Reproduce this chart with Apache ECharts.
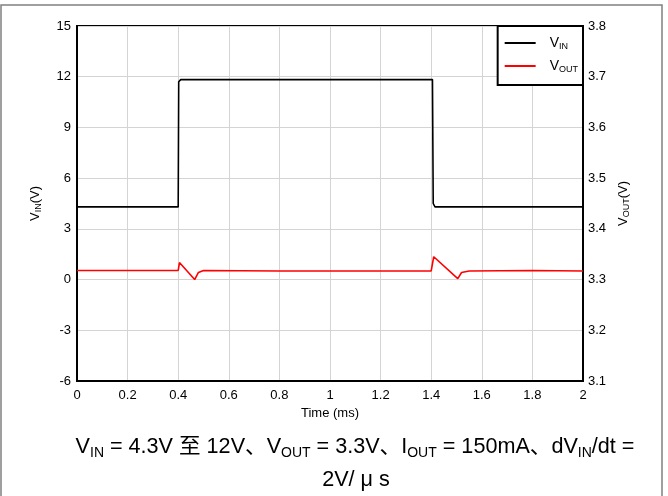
<!DOCTYPE html>
<html>
<head>
<meta charset="utf-8">
<script src="https://cdn.jsdelivr.net/npm/echarts@6/dist/echarts.min.js"></script>
<style>html,body{margin:0;padding:0;background:#fff;}#c{width:668px;height:496px;}</style>
</head>
<body>
<div id="c"></div>
<script>
// Time (ms)
const vinTime = [0, 0.40, 0.402, 0.41, 1.405, 1.408, 1.415, 2.0];
const vinVals = [4.3, 4.3, 11.7, 11.83, 11.83, 4.5, 4.3, 4.3];
const voutTime = [0, 0.20, 0.40, 0.405, 0.465, 0.48, 0.50, 0.80, 1.20, 1.40, 1.41, 1.505, 1.52, 1.55, 1.80, 2.0];
const voutVals = [3.318, 3.318, 3.318, 3.3335, 3.300, 3.314, 3.318, 3.317, 3.317, 3.317, 3.345, 3.302, 3.314, 3.317, 3.318, 3.317];
const leftTicks = {min: -6, max: 15, interval: 3};
const rightTicks = {min: 3.1, max: 3.8, interval: 0.1};
const xTicks = {min: 0, max: 2, interval: 0.2};

const FONT = "'Liberation Sans', Arial, 'Noto Sans CJK SC', sans-serif";
const chart = echarts.init(document.getElementById('c'), null, {renderer: 'canvas'});
const subRich = {
  n: {fontSize: 13, fontFamily: FONT, color: '#000', lineHeight: 16},
  s: {fontSize: 9, fontFamily: FONT, color: '#000', lineHeight: 16, verticalAlign: 'bottom', padding: [4, 0, 0, 0]}
};
const legRich = {
  n: {fontSize: 14, fontFamily: FONT, color: '#000', lineHeight: 16},
  s: {fontSize: 9, fontFamily: FONT, color: '#000', lineHeight: 16, verticalAlign: 'bottom', padding: [5, 0, 0, 0]}
};
const capRich = {
  n: {fontSize: 21.6, fontFamily: FONT, color: '#000', lineHeight: 26},
  s: {fontSize: 14, fontFamily: FONT, color: '#000', lineHeight: 26, verticalAlign: 'bottom', padding: [7, 0, 0, 0]}
};
const legendNames = {'VIN': '{n|V}{s|IN}', 'VOUT': '{n|V}{s|OUT}'};

chart.setOption({
  animation: false,
  backgroundColor: '#fff',
  grid: {left: 77, right: 85, top: 26, bottom: 115, show: true, borderColor: '#000', borderWidth: 2, containLabel: false},
  xAxis: {
    type: 'value', min: xTicks.min, max: xTicks.max, interval: xTicks.interval,
    name: 'Time (ms)', nameLocation: 'middle', nameGap: 24,
    nameTextStyle: {fontSize: 13, fontFamily: FONT, color: '#000'},
    axisLine: {show: true, onZero: false, lineStyle: {color: '#000', width: 2}},
    axisTick: {show: false},
    axisLabel: {fontSize: 13, fontFamily: FONT, color: '#000', margin: 8, formatter: v => String(Math.round(v * 10) / 10)},
    splitLine: {show: true, lineStyle: {color: '#d4d4d4', width: 1}}
  },
  yAxis: [{
    type: 'value', position: 'left', min: leftTicks.min, max: leftTicks.max, interval: leftTicks.interval,
    name: '{n|V}{s|IN}{n|(V)}', nameLocation: 'middle', nameGap: 34, nameRotate: 90,
    nameTextStyle: {rich: subRich},
    axisLine: {show: true, onZero: false, lineStyle: {color: '#000', width: 2}},
    axisTick: {show: false},
    axisLabel: {fontSize: 13, fontFamily: FONT, color: '#000', margin: 6},
    splitLine: {show: true, lineStyle: {color: '#d4d4d4', width: 1}}
  }, {
    type: 'value', position: 'right', min: rightTicks.min, max: rightTicks.max, interval: rightTicks.interval,
    name: '{n|V}{s|OUT}{n|(V)}', nameLocation: 'middle', nameGap: 32, nameRotate: 90,
    nameTextStyle: {rich: subRich},
    axisLine: {show: true, onZero: false, lineStyle: {color: '#000', width: 2}},
    axisTick: {show: false},
    axisLabel: {fontSize: 13, fontFamily: FONT, color: '#000', margin: 5, formatter: v => v.toFixed(1)},
    splitLine: {show: false}
  }],
  legend: {
    orient: 'vertical', right: 85, top: 26,
    backgroundColor: '#fff', borderColor: '#000', borderWidth: 2,
    padding: [10, 5, 11, 7], itemGap: 8, itemWidth: 31, itemHeight: 2, icon: 'rect',
    data: ['VIN', 'VOUT'],
    formatter: name => legendNames[name],
    textStyle: {rich: legRich, padding: [0, 0, 0, 9]}
  },
  graphic: [
    {type: 'rect', shape: {x: 1, y: 5, width: 661, height: 500}, style: {fill: 'none', stroke: '#808080', lineWidth: 1.5}, silent: true, z: -10},
    {type: 'text', x: 355, y: 434, style: {
      text: '{n|V}{s|IN}{n| = 4.3V 至 12V、V}{s|OUT}{n| = 3.3V、I}{s|OUT}{n| = 150mA、dV}{s|IN}{n|/dt =}',
      align: 'center', rich: capRich}},
    {type: 'text', x: 356, y: 467, style: {text: '{n|2V/ μ s}', align: 'center', rich: capRich}}
  ],
  series: [{
    name: 'VIN', type: 'line', yAxisIndex: 0, symbol: 'none', z: 3,
    lineStyle: {color: '#000', width: 1.6}, itemStyle: {color: '#000'},
    data: vinTime.map((t, i) => [t, vinVals[i]])
  }, {
    name: 'VOUT', type: 'line', yAxisIndex: 1, symbol: 'none', z: 4,
    lineStyle: {color: '#ff0000', width: 1.6}, itemStyle: {color: '#ff0000'},
    data: voutTime.map((t, i) => [t, voutVals[i]])
  }]
});
</script>
</body>
</html>
